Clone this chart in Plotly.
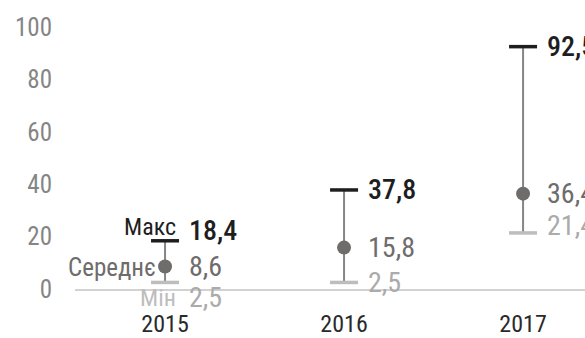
import plotly.graph_objects as go

# Annual range figures: maximum, mean and minimum per year
years = ["2015", "2016", "2017"]
max_vals = [18.4, 37.8, 92.5]
mean_vals = [8.6, 15.8, 36.4]
min_vals = [2.5, 2.5, 21.4]
y_ticks = [0, 20, 40, 60, 80, 100]

FONT = "Roboto Condensed, sans-serif"
C_MAX = "#1e1e1e"
C_MEAN = "#6f6c6c"
C_LINE = "#858585"
C_MIN = "#bdbdbd"
C_MIN_TXT = "#ababab"


def fmt(v):
    return f"{v:.1f}".replace(".", ",")


fig = go.Figure()

# Vertical range lines (min to max)
line_x, line_y = [], []
for yr, lo, hi in zip(years, min_vals, max_vals):
    line_x += [yr, yr, None]
    line_y += [lo, hi, None]
fig.add_trace(go.Scatter(x=line_x, y=line_y, mode="lines",
                         line=dict(color=C_LINE, width=2), hoverinfo="skip"))

# Max and min caps
fig.add_trace(go.Scatter(x=years, y=max_vals, mode="markers",
                         marker=dict(symbol="line-ew", size=20,
                                     line=dict(color=C_MAX, width=3.5))))
fig.add_trace(go.Scatter(x=years, y=min_vals, mode="markers",
                         marker=dict(symbol="line-ew", size=20,
                                     line=dict(color=C_MIN, width=3.5))))
# Mean points
fig.add_trace(go.Scatter(x=years, y=mean_vals, mode="markers",
                         marker=dict(symbol="circle", size=14, color=C_MEAN)))

# Value labels to the right of each range (x given as category index)
max_shift = [10, 0, 0]
min_shift = [-15, 0, 7]
for i, yr in enumerate(years):
    fig.add_annotation(x=i, y=max_vals[i], text=fmt(max_vals[i]), showarrow=False,
                       xanchor="left", xshift=22, yshift=max_shift[i],
                       font=dict(family=FONT, size=28, color=C_MAX, weight=500))
    fig.add_annotation(x=i, y=mean_vals[i], text=fmt(mean_vals[i]), showarrow=False,
                       xanchor="left", xshift=22,
                       font=dict(family=FONT, size=28, color=C_MEAN))
    fig.add_annotation(x=i, y=min_vals[i], text=fmt(min_vals[i]), showarrow=False,
                       xanchor="left", xshift=22, yshift=min_shift[i],
                       font=dict(family=FONT, size=28, color=C_MIN_TXT))

# Captions beside the first range
fig.add_annotation(x=0, y=max_vals[0], text="Макс", showarrow=False,
                   xanchor="right", xshift=13, yshift=14,
                   font=dict(family=FONT, size=24, color=C_MAX))
fig.add_annotation(x=0, y=mean_vals[0], text="Середнє", showarrow=False,
                   xanchor="right", xshift=-7, yshift=-1,
                   font=dict(family=FONT, size=25, color=C_MEAN))
fig.add_annotation(x=0, y=min_vals[0], text="Мін", showarrow=False,
                   xanchor="right", xshift=13, yshift=-16,
                   font=dict(family=FONT, size=24, color=C_MIN))

fig.update_layout(
    width=585, height=338,
    margin=dict(l=75, r=0, t=27, b=44),
    paper_bgcolor="white", plot_bgcolor="white",
    showlegend=False,
    font=dict(family=FONT),
)
fig.update_xaxes(type="category", range=[-0.503, 2.346], showgrid=False,
                 showline=True, linecolor="#d2d2d2", linewidth=1.5,
                 ticks="", ticklabelstandoff=12,
                 tickfont=dict(family=FONT, size=24, color="#2a2a2a"))
fig.update_yaxes(range=[0, 100], tickvals=y_ticks, showgrid=False, zeroline=False,
                 showline=False, ticks="", ticklabelstandoff=22,
                 tickfont=dict(family=FONT, size=25, color="#858585"))

fig.write_html("out.html")
